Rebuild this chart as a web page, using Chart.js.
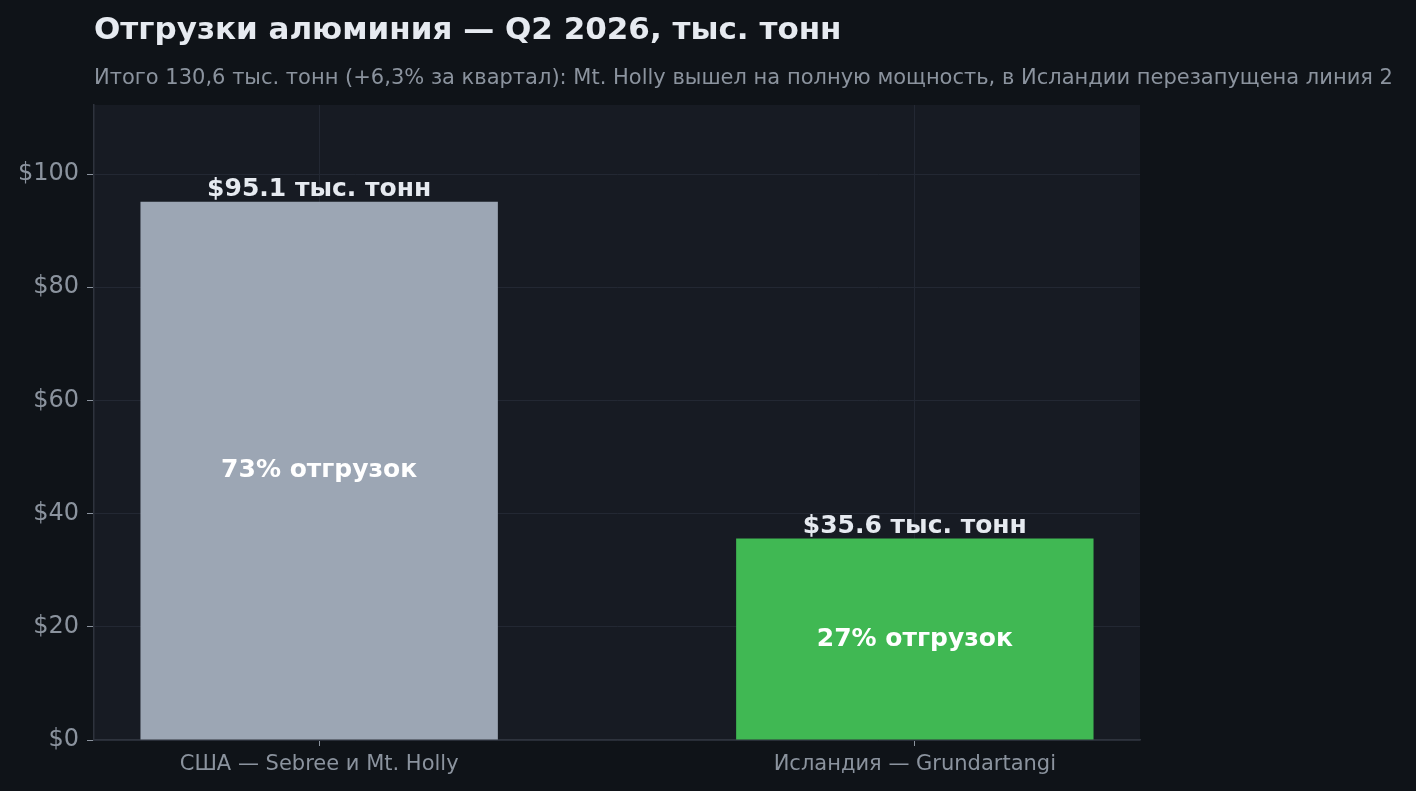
<!DOCTYPE html>
<html>
<head>
<meta charset="utf-8">
<script src="https://cdn.jsdelivr.net/npm/chart.js@4/dist/chart.umd.min.js"></script>
<style>
  html, body { margin: 0; padding: 0; background: #0f1318; }
  #wrap { width: 1416px; height: 791px; }
</style>
</head>
<body>
<div id="wrap"><canvas id="chart"></canvas></div>
<script>
const categories = ['США — Sebree и Mt. Holly', 'Исландия — Grundartangi'];
const shipments = [95.1, 35.6];
const shareLabels = ['73% отгрузок', '27% отгрузок'];
const barColors = ['#9ca6b4', '#40b853'];
const yTicks = [0, 20, 40, 60, 80, 100];

const titleText = 'Отгрузки алюминия — Q2 2026, тыс. тонн';
const subtitleText = 'Итого 130,6 тыс. тонн (+6,3% за квартал): Mt. Holly вышел на полную мощность, в Исландии перезапущена линия 2';

const FONT = '"DejaVu Sans", sans-serif';

// plot background, titles and the labels on bars
const decor = {
  id: 'decor',
  beforeDraw(chart) {
    const { ctx, chartArea: a } = chart;
    ctx.save();
    ctx.fillStyle = '#171b23';
    ctx.fillRect(a.left, a.top, a.right - a.left, a.bottom - a.top);
    ctx.restore();
  },
  afterDraw(chart) {
    const { ctx } = chart;
    ctx.save();
    ctx.textAlign = 'left';
    ctx.textBaseline = 'alphabetic';
    ctx.fillStyle = '#e6eaf0';
    ctx.font = 'bold 31px ' + FONT;
    ctx.fillText(titleText, 94, 39);
    ctx.fillStyle = '#8b939e';
    ctx.font = '21px ' + FONT;
    ctx.fillText(subtitleText, 94, 84);

    const meta = chart.getDatasetMeta(0);
    meta.data.forEach((bar, i) => {
      ctx.textAlign = 'center';
      ctx.fillStyle = '#e6eaf0';
      ctx.font = 'bold 25px ' + FONT;
      ctx.textBaseline = 'alphabetic';
      ctx.fillText('$' + shipments[i].toFixed(1) + ' тыс. тонн', bar.x, bar.y - 6);
      ctx.fillStyle = '#ffffff';
      ctx.textBaseline = 'middle';
      ctx.fillText(shareLabels[i], bar.x, (bar.y + bar.base) / 2);
    });
    ctx.restore();
  }
};

new Chart(document.getElementById('chart'), {
  type: 'bar',
  data: {
    datasets: [{
      data: shipments.map((v, i) => ({ x: i, y: v })),
      backgroundColor: barColors,
      borderWidth: 0,
      categoryPercentage: 1,
      barPercentage: 0.6
    }]
  },
  options: {
    responsive: true,
    maintainAspectRatio: false,
    animation: false,
    layout: { padding: { top: 105, right: 276, left: 0, bottom: 0 } },
    plugins: { legend: { display: false }, tooltip: { enabled: false } },
    scales: {
      x: {
        type: 'linear',
        offset: false,
        min: -0.378,
        max: 1.378,
        afterFit(s) { s.height = 51; },
        afterBuildTicks(s) { s.ticks = categories.map((c, i) => ({ value: i })); },
        grid: { offset: false, color: '#232833', tickColor: '#8b939e', tickLength: 6 },
        border: { color: '#2e333d', width: 1.5 },
        ticks: {
          color: '#8b939e',
          font: { family: FONT, size: 21 },
          padding: 6,
          callback: v => categories[v]
        }
      },
      y: {
        min: 0,
        max: 112.2,
        afterFit(s) { s.width = 94; },
        afterBuildTicks(s) { s.ticks = yTicks.map(v => ({ value: v })); },
        grid: { color: '#232833', tickColor: '#8b939e', tickLength: 7 },
        border: { color: '#2e333d', width: 1.5 },
        ticks: {
          color: '#8b939e',
          font: { family: FONT, size: 24 },
          padding: 8,
          callback: v => '$' + v
        }
      }
    }
  },
  plugins: [decor]
});
</script>
</body>
</html>
